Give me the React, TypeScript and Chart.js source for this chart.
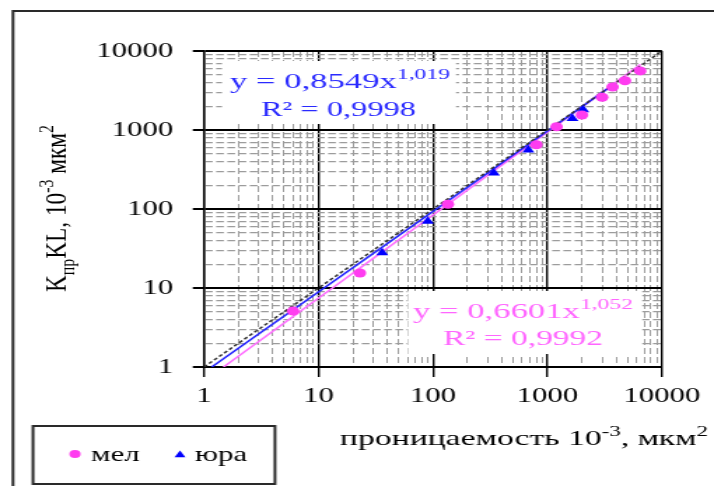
import React, { useEffect, useRef } from 'react';
import { Chart, registerables } from 'chart.js';

Chart.register(...registerables);

// ---- data ----
const melX = [6, 23, 135, 800, 1200, 2000, 3000, 3700, 4750, 6450];
const melY = [5.1, 15.5, 115, 650, 1100, 1550, 2600, 3500, 4200, 5600];
const juraX = [36, 90, 340, 680, 1650, 2050];
const juraY = [28, 70, 285, 560, 1400, 1800];
const trendMelX = [1.48, 6500];
const trendMelY = [1, 6780];
const trendJuraX = [1.166, 3400];
const trendJuraY = [1, 3390];
const diagX = [1, 10000];
const diagY = [1, 10000];
const majorTicks = [1, 10, 100, 1000, 10000];
const tickLabels = ['1', '10', '100', '1000', '10000'];
const minorMantissas = [2, 3, 4, 5, 6, 7, 8, 9];
const legendLabels = ['мел', 'юра'];
const eqJura = ['y = 0,8549x', '1,019', 'R² = 0,9998'];
const eqMel = ['y = 0,6601x', '1,052', 'R² = 0,9992'];

// ---- look ----
const S = 1.4; // horizontal stretch of the whole picture
const W = 714;
const H = 486;
const CW = W / S;
const px = (x: number) => x / S;
const FAMILY = '"Liberation Serif", "Times New Roman", serif';
const PINK = '#ff3cf0';
const PINK_LINE = '#ff70ff';
const PINK_TEXT = '#ff66ff';
const BLUE = '#0000ff';
const BLUE_LINE = '#2424ff';
const BLUE_TEXT = '#2a2aff';
const MINOR = '#9c9c9c';

const allTicks: number[] = [];
majorTicks.forEach((m, i) => {
  allTicks.push(m);
  if (i < majorTicks.length - 1) minorMantissas.forEach((k) => allTicks.push(k * m));
});
const isMajor = (v: any) => majorTicks.includes(v);
const labelFor = (v: any) => {
  const i = majorTicks.indexOf(v);
  return i >= 0 ? tickLabels[i] : '';
};

type Seg = { t: string; k?: 'sup' | 'sub' };

function segFont(s: Seg, size: number) {
  return `${s.k ? Math.round(size * 0.66) : size}px ${FAMILY}`;
}

function drawRich(ctx: CanvasRenderingContext2D, segs: Seg[], cx: number, baseline: number, targetW: number, size: number, color: string) {
  let w = 0;
  for (const s of segs) {
    ctx.font = segFont(s, size);
    w += ctx.measureText(s.t).width;
  }
  const sx = targetW / w;
  ctx.save();
  ctx.translate(cx - targetW / 2, baseline);
  ctx.scale(sx, 1);
  ctx.fillStyle = color;
  ctx.textBaseline = 'alphabetic';
  ctx.textAlign = 'left';
  let x = 0;
  for (const s of segs) {
    ctx.font = segFont(s, size);
    const dy = s.k === 'sup' ? -size * 0.4 : s.k === 'sub' ? size * 0.25 : 0;
    ctx.fillText(s.t, x, dy);
    x += ctx.measureText(s.t).width;
  }
  ctx.restore();
}

function drawTriangle(ctx: CanvasRenderingContext2D, x: number, y: number, r: number) {
  let rad = 0;
  ctx.beginPath();
  ctx.moveTo(x + Math.sin(rad) * r, y - Math.cos(rad) * r);
  rad += (2 * Math.PI) / 3;
  ctx.lineTo(x + Math.sin(rad) * r, y - Math.cos(rad) * r);
  rad += (2 * Math.PI) / 3;
  ctx.lineTo(x + Math.sin(rad) * r, y - Math.cos(rad) * r);
  ctx.closePath();
  ctx.fill();
}

const decor = {
  id: 'decor',
  beforeDraw(chart: any) {
    const c = chart.ctx;
    c.save();
    c.fillStyle = '#fff';
    c.fillRect(0, 0, chart.width, chart.height);
    c.restore();
  },
  afterDraw(chart: any) {
    const c: CanvasRenderingContext2D = chart.ctx;
    c.save();
    // outer frame (left and top edges visible)
    c.strokeStyle = '#2a2a2a';
    c.lineWidth = 2;
    c.beginPath();
    c.moveTo(px(13), H + 2);
    c.lineTo(px(13), 11);
    c.lineTo(chart.width + 2, 11);
    c.stroke();

    // equation boxes
    c.fillStyle = '#fff';
    c.fillRect(px(222), 61, px(456) - px(222), 63);
    c.fillRect(px(408), 291, px(642) - px(408), 63);

    drawRich(c, [{ t: eqJura[0] }, { t: eqJura[1], k: 'sup' }], px(340), 88, px(220), 22, BLUE_TEXT);
    drawRich(c, [{ t: eqJura[2] }], px(338.5), 116, px(155), 22, BLUE_TEXT);
    drawRich(c, [{ t: eqMel[0] }, { t: eqMel[1], k: 'sup' }], px(523), 318, px(220), 22, PINK_TEXT);
    drawRich(c, [{ t: eqMel[2] }], px(523), 345, px(160), 22, PINK_TEXT);

    // x axis title
    drawRich(
      c,
      [{ t: 'проницаемость 10' }, { t: '-3', k: 'sup' }, { t: ', мкм' }, { t: '2', k: 'sup' }],
      px(524),
      445,
      px(368),
      22,
      '#000'
    );

    // y axis title (rotated)
    c.save();
    c.translate(px(66), 208.5);
    c.rotate(-Math.PI / 2);
    drawRich(
      c,
      [{ t: 'K' }, { t: 'пр', k: 'sub' }, { t: 'KL, 10' }, { t: '-3', k: 'sup' }, { t: ' мкм' }, { t: '2', k: 'sup' }],
      0,
      0,
      167,
      22,
      '#000'
    );
    c.restore();

    // legend
    c.strokeStyle = '#2a2a2a';
    c.lineWidth = 2;
    c.strokeRect(px(33), 426, px(275) - px(33), 58);
    c.fillStyle = PINK;
    c.beginPath();
    c.arc(px(75), 454, 4, 0, Math.PI * 2);
    c.fill();
    c.fillStyle = BLUE;
    drawTriangle(c, px(180), 455, 4.5);
    c.fillStyle = '#000';
    c.font = `22px ${FAMILY}`;
    c.textBaseline = 'alphabetic';
    c.textAlign = 'left';
    c.fillText(legendLabels[0], px(91), 461);
    c.fillText(legendLabels[1], px(195), 461);
    c.restore();
  },
};

function axisOpts(kind: 'x' | 'y') {
  const horiz = kind === 'y';
  return {
    type: 'logarithmic' as const,
    min: 1,
    max: 10000,
    afterBuildTicks: (s: any) => {
      s.ticks = allTicks.map((v) => ({ value: v }));
    },
    afterFit: (s: any) => {
      if (kind === 'y') s.width = px(204);
      else s.height = H - 367;
    },
    ticks: {
      autoSkip: false,
      maxRotation: 0,
      minRotation: 0,
      padding: kind === 'y' ? 14 : 6,
      color: '#000',
      font: { family: FAMILY, size: 22 },
      callback: (v: any) => labelFor(v),
    },
    grid: {
      drawTicks: true,
      tickLength: kind === 'y' ? 8 : 10,
      tickWidth: horiz ? 2 : 1.4,
      color: (ctx: any) => (ctx.tick && isMajor(ctx.tick.value) ? '#000' : MINOR),
      tickColor: (ctx: any) => (ctx.tick && isMajor(ctx.tick.value) ? '#000' : 'rgba(0,0,0,0)'),
      lineWidth: (ctx: any) =>
        ctx.tick && isMajor(ctx.tick.value) ? (horiz ? 2 : 1.4) : horiz ? 1.3 : 1,
    },
    border: {
      display: true,
      color: '#000',
      width: horiz ? 1.4 : 2,
      dash: (ctx: any) => (ctx.tick && !isMajor(ctx.tick.value) ? (horiz ? [5.5, 2.5] : [6, 3]) : []),
    },
  };
}

export default function App() {
  const ref = useRef<HTMLCanvasElement | null>(null);
  useEffect(() => {
    if (!ref.current) return;
    const pts = (xs: number[], ys: number[]) => xs.map((x, i) => ({ x, y: ys[i] }));
    const chart = new Chart(ref.current, {
      type: 'scatter',
      data: {
        datasets: [
          {
            label: legendLabels[0],
            data: pts(melX, melY),
            pointStyle: 'circle',
            pointRadius: 4.5,
            pointBorderWidth: 0,
            backgroundColor: PINK,
            borderColor: PINK,
            order: 0,
          },
          {
            label: legendLabels[1],
            data: pts(juraX, juraY),
            pointStyle: 'triangle',
            pointRadius: 5,
            pointBorderWidth: 0,
            backgroundColor: BLUE,
            borderColor: BLUE,
            order: 1,
          },
          {
            label: 'y = x',
            data: pts(diagX, diagY),
            showLine: true,
            pointRadius: 0,
            borderColor: '#333',
            borderWidth: 1.5,
            borderDash: [3, 2],
            order: 2,
          },
          {
            label: 'тренд юра',
            data: pts(trendJuraX, trendJuraY),
            showLine: true,
            pointRadius: 0,
            borderColor: BLUE_LINE,
            borderWidth: 1.6,
            order: 3,
          },
          {
            label: 'тренд мел',
            data: pts(trendMelX, trendMelY),
            showLine: true,
            pointRadius: 0,
            borderColor: PINK_LINE,
            borderWidth: 1.6,
            order: 4,
          },
        ],
      },
      options: {
        animation: false,
        responsive: false,
        devicePixelRatio: 1,
        layout: { padding: { left: 0, top: 51, right: CW - px(662), bottom: 0 } },
        plugins: { legend: { display: false }, tooltip: { enabled: false } },
        scales: { x: axisOpts('x') as any, y: axisOpts('y') as any },
      },
      plugins: [decor],
    });
    return () => chart.destroy();
  }, []);
  return (
    <canvas
      ref={ref}
      width={CW}
      height={H}
      style={{ position: 'fixed', left: 0, top: 0, width: W, height: H, display: 'block' }}
    />
  );
}
